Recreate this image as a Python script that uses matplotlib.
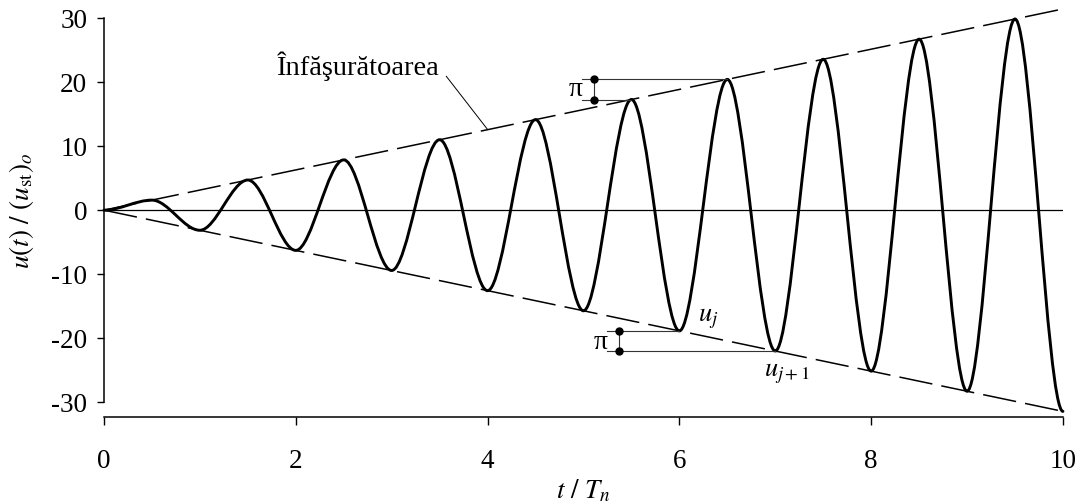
#!/usr/bin/env python3
"""Resonant response u(t)/(u_st)o growing linearly between the envelope lines."""
import matplotlib
matplotlib.use('Agg')
import matplotlib.pyplot as plt
from matplotlib.path import Path
from matplotlib.patches import PathPatch

# extrema of the response, every half period
peak_t = [0.0, 0.5, 1.0, 1.5, 2.0, 2.5, 3.0, 3.5, 4.0, 4.5, 5.0,
          5.5, 6.0, 6.5, 7.0, 7.5, 8.0, 8.5, 9.0, 9.5, 10.0]
peak_u = [0.0, 1.57, -3.14, 4.71, -6.28, 7.85, -9.42, 11.0, -12.57, 14.14, -15.71,
          17.28, -18.85, 20.42, -21.99, 23.56, -25.13, 26.7, -28.27, 29.85, -31.42]

# envelope lines
env_t = [0.0, 10.0]
env_hi = [0.0, 31.42]
env_lo = [0.0, -31.42]

x_ticks = [0, 2, 4, 6, 8, 10]
y_ticks = [-30, -20, -10, 0, 10, 20, 30]

plt.rcParams['font.family'] = ['Liberation Serif', 'DejaVu Serif']
plt.rcParams['mathtext.fontset'] = 'stix'
plt.rcParams['axes.unicode_minus'] = False

fig = plt.figure(figsize=(10.82, 5.04), dpi=100)
ax = fig.add_axes([0.0961, 0.1726, 0.8863, 0.817])

# smooth curve through the extrema, flat tangent at each one
verts, codes = [(peak_t[0], peak_u[0])], [Path.MOVETO]
for i in range(1, len(peak_t)):
    t0, u0, t1, u1 = peak_t[i - 1], peak_u[i - 1], peak_t[i], peak_u[i]
    h = (t1 - t0) / 3
    verts += [(t0 + h, u0), (t1 - h, u1), (t1, u1)]
    codes += [Path.CURVE4] * 3
ax.add_patch(PathPatch(Path(verts, codes), fill=False, lw=2.1, color='black',
                       capstyle='round', clip_on=False))

for env in (env_hi, env_lo):
    ax.plot(env_t, env, color='black', lw=1.1, dashes=(22, 6), clip_on=False)
ax.plot(env_t, [0, 0], color='black', lw=0.9)

# envelope label with leader line
ax.text(1.8, 22.4, 'Înfăşurătoarea', fontsize=20.5, va='center', ha='left')
ax.plot([3.57, 4.0], [20.9, 12.6], color='black', lw=0.7)

# dimension marks: one step of pi between successive peaks
thin = dict(color='#333333', lw=0.8)
ax.plot([4.98, peak_t[13]], [peak_u[13], peak_u[13]], **thin)
ax.plot([4.98, peak_t[11]], [peak_u[11], peak_u[11]], **thin)
ax.plot([5.11, 5.11], [peak_u[11], peak_u[13]], **thin)
ax.plot([5.11, 5.11], [peak_u[11], peak_u[13]], 'o', color='black', ms=5)
ax.text(4.92, 18.8, 'π', fontsize=20, ha='center', va='center')

ax.plot([5.25, peak_t[12]], [peak_u[12], peak_u[12]], **thin)
ax.plot([5.25, peak_t[14]], [peak_u[14], peak_u[14]], **thin)
ax.plot([5.37, 5.37], [peak_u[12], peak_u[14]], **thin)
ax.plot([5.37, 5.37], [peak_u[12], peak_u[14]], 'o', color='black', ms=5)
ax.text(5.18, -20.6, 'π', fontsize=20, ha='center', va='center')

ax.text(6.19, -17.0, r'$u_j$', fontsize=19, ha='left', va='center')
ax.text(6.88, -25.6, r'$u_{j+1}$', fontsize=19, ha='left', va='center')

ax.set_xlim(0, 10)
ax.set_ylim(-32.3, 32.0)
ax.spines['top'].set_visible(False)
ax.spines['right'].set_visible(False)
ax.spines['left'].set_bounds(-30, 30)
ax.spines['bottom'].set_position(('data', -32.3))
for s in ('left', 'bottom'):
    ax.spines[s].set_linewidth(1.1)
ax.set_xticks(x_ticks)
ax.set_yticks(y_ticks)
ax.tick_params(labelsize=19.5, width=1.0, direction='out')
ax.tick_params(axis='x', length=6, pad=17)
ax.tick_params(axis='y', length=5, pad=7)

ax.set_xlabel(r'$t\ /\ T_n$', fontsize=19.5, labelpad=3)
ax.set_ylabel(r'$u(t)\ /\ (u_\mathrm{st})_o$', fontsize=19.5, labelpad=11)

fig.savefig('out.png', dpi=100)
